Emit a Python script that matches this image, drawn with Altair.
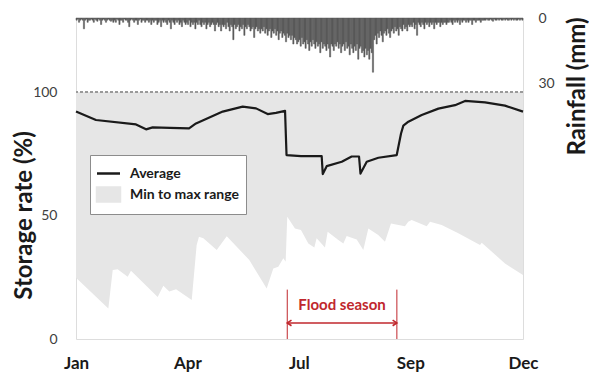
import altair as alt
import pandas as pd

# ---- data -------------------------------------------------------------
# Average storage rate (%) by day of year
avg_day = [0, 16.3, 49.0, 57.2, 62.6, 76.8, 92.3, 98.0, 119.8, 136.1, 147.0, 156.5,
           163.3, 170.7, 171.9, 183.7, 200.6, 201.5, 204.7, 217.0, 225.1, 231.1,
           232.3, 237.4, 246.9, 261.9, 265.4, 267.3, 271.4, 282.3, 295.9, 309.5,
           317.7, 334.0, 350.3, 365]
avg_rate = [92.1, 88.7, 86.9, 84.9, 85.7, 85.5, 85.3, 87.3, 92.1, 94.1, 93.4, 91.1,
            91.6, 92.4, 74.5, 74.1, 74.1, 66.8, 70.0, 71.8, 73.9, 73.9,
            67.0, 71.8, 73.4, 74.5, 83.2, 86.4, 88.0, 90.7, 93.3, 94.7,
            96.4, 95.8, 94.5, 92.1]

# Lower edge of the min-to-max band (%); the upper edge is full storage
min_day = [0, 26.4, 30.0, 34.0, 42.2, 44.9, 66.7, 71.3, 76.2, 81.7, 94.5, 98.5,
           100.4, 104.0, 114.9, 123.1, 141.5, 155.7, 161.1, 165.2, 169.3, 171.2,
           172.5, 178.8, 183.7, 189.7, 194.6, 196.5, 203.3, 205.5, 214.2, 218.3,
           221.0, 229.2, 234.6, 238.7, 246.8, 252.3, 257.2, 268.6, 271.3, 274.1,
           286.4, 289.1, 298.6, 312.2, 329.9, 331.3, 350.3, 365]
min_rate = [24.8, 12.4, 27.9, 28.2, 25.2, 27.6, 17.0, 21.6, 19.2, 20.1, 15.8, 38.0,
            41.4, 40.8, 36.0, 41.6, 32.0, 20.5, 28.6, 29.3, 32.7, 31.3,
            49.5, 44.8, 44.1, 38.7, 37.1, 40.8, 37.1, 43.4, 40.1, 38.7,
            41.7, 40.3, 36.0, 44.8, 42.1, 39.4, 46.8, 45.7, 47.5, 48.2,
            45.7, 47.5, 46.2, 42.8, 38.1, 39.0, 30.6, 25.9]
max_rate = 100

# Daily rainfall (mm), month by month
rain_jan = [1, 0.5, 2, 1, 0.5, 1, 5, 1, 0.5, 2, 1, 1, 0.5, 1, 2, 0.5, 1, 1.5, 0.5, 1,
            3, 1, 0.5, 1, 2, 1, 0.5, 1, 1.5, 1, 2]
rain_feb = [1, 2, 0.5, 1, 3, 1, 1, 2, 0.5, 1, 1, 2, 4, 1, 0.5, 1, 2, 1, 1, 3,
            1, 0.5, 2, 1, 1, 2, 1, 1]
rain_mar = [2, 1, 3, 1, 2, 1, 1, 3, 2, 1, 4, 1, 2, 1, 2, 3, 1, 2, 5, 1,
            2, 3, 1, 2, 1, 3, 2, 4, 1, 2, 3]
rain_apr = [2, 3, 1, 4, 2, 3, 2, 5, 2, 3, 1, 3, 4, 2, 3, 2, 5, 3, 2, 4,
            3, 2, 3, 6, 3, 2, 4, 3, 6, 3]
rain_may = [4, 3, 5, 2, 4, 6, 3, 4, 10, 3, 5, 4, 3, 6, 4, 5, 3, 8, 4, 5,
            3, 4, 6, 5, 4, 9, 5, 4, 6, 5, 7]
rain_jun = [5, 6, 4, 7, 5, 8, 6, 5, 9, 6, 7, 5, 8, 6, 10, 7, 6, 9, 7, 8,
            11, 7, 9, 8, 10, 8, 12, 9, 10, 12]
rain_jul = [11, 10, 13, 9, 12, 11, 14, 10, 12, 15, 11, 13, 10, 12, 14, 11, 13, 12, 16, 11,
            14, 12, 13, 15, 12, 14, 18, 12, 13, 15, 12]
rain_aug = [13, 11, 14, 12, 16, 13, 12, 15, 11, 14, 13, 17, 12, 14, 16, 13, 15, 12, 19, 14,
            13, 16, 15, 18, 14, 17, 15, 19, 14, 16, 25]
rain_sep = [10, 8, 12, 7, 9, 6, 8, 11, 7, 6, 8, 5, 7, 9, 6, 5, 7, 4, 6, 5,
            8, 4, 5, 6, 3, 5, 4, 6, 3, 4]
rain_oct = [3, 4, 2, 5, 3, 8, 2, 3, 4, 2, 3, 5, 2, 3, 2, 4, 2, 3, 2, 5,
            2, 3, 2, 2, 4, 2, 3, 2, 2, 3, 2]
rain_nov = [2, 1, 2, 3, 1, 2, 1, 2, 1, 3, 1, 2, 1, 1, 2, 1, 2, 1, 1, 3,
            1, 1, 2, 1, 1, 1, 2, 1, 1, 1]
rain_dec = [1, 0.5, 1, 1, 0.5, 1, 1.5, 0.5, 1, 1, 0.5, 1, 0.5, 1, 1, 0.5, 1, 0.5, 1, 1,
            0.5, 1, 0.5, 1, 0.5, 1, 1, 0.5, 1, 0.5, 1]

# Axis ticks
tick_days = [0, 91, 182, 273, 365]
tick_months = ["Jan", "Apr", "Jul", "Sep", "Dec"]
storage_ticks = [0, 50, 100]
rain_ticks = [0, 30]

# Flood season window (day of year)
flood_start, flood_end = 172.5, 262.0
flood_label = "Flood season"

series_names = ["Average", "Min to max range"]

# ---- styling ------------------------------------------------------------
FONT = "Lato"
INK = "#1a1a1a"
RED = "#c0272d"
BAND = "#e6e6e6"
RAIN = "#5a5a5a"

rain = (rain_jan + rain_feb + rain_mar + rain_apr + rain_may + rain_jun +
        rain_jul + rain_aug + rain_sep + rain_oct + rain_nov + rain_dec)

band_df = pd.DataFrame({"day": min_day, "lo": min_rate, "series": series_names[1]})
avg_df = pd.DataFrame({"day": avg_day, "rate": avg_rate, "series": series_names[0]})
rain_df = pd.DataFrame({"day": list(range(len(rain))),
                        "day_end": [d + 1 for d in range(len(rain))],
                        "rain": rain})
flood_df = pd.DataFrame({"day": [flood_start, flood_end]})
arrow_df = pd.DataFrame({"start": [flood_start], "end": [flood_end],
                         "mid": [(flood_start + flood_end) / 2]})

label_expr = " : ".join(
    f"datum.value < {(tick_days[i] + tick_days[i + 1]) / 2} ? '{tick_months[i]}'"
    for i in range(len(tick_days) - 1)
) + f" : '{tick_months[-1]}'"

x_axis = alt.Axis(values=tick_days, labelExpr=label_expr, title=None, grid=False,
                  domain=False, ticks=False, tickSize=0, labelPadding=16,
                  labelFont=FONT, labelFontSize=17, labelFontWeight="bold",
                  labelColor=INK, labelFlush=False, labelOverlap=False)
x_scale = alt.Scale(domain=[0, 365], nice=False, zero=False)

y_axis = alt.Axis(values=storage_ticks, title="Storage rate (%)", grid=False,
                  domain=False, ticks=False, tickSize=0, labelPadding=19,
                  labelFont=FONT, labelFontSize=14, labelColor="#404040",
                  titleFont=FONT, titleFontSize=24, titleFontWeight="bold",
                  titleColor=INK, titleAngle=270, titleX=-45, titleY=197,
                  titleAlign="center", titleBaseline="alphabetic")
y_scale = alt.Scale(domain=[0, 130], nice=False, zero=True)

r_axis = alt.Axis(values=rain_ticks, orient="right", title="Rainfall (mm)", grid=False,
                  domain=False, ticks=False, tickSize=0, labelPadding=15,
                  labelFont=FONT, labelFontSize=14, labelColor="#404040",
                  titleFont=FONT, titleFontSize=24, titleFontWeight="bold",
                  titleColor=INK, titleAngle=270, titleX=61, titleY=68,
                  titleAlign="center", titleBaseline="alphabetic")
r_scale = alt.Scale(domain=[0, 148], reverse=True, nice=False, zero=True)


def xq(field):
    return alt.X(field, type="quantitative", scale=x_scale, axis=x_axis)


def yq(field):
    return alt.Y(field, type="quantitative", scale=y_scale, axis=y_axis)


def ydatum(v):
    return alt.Y(datum=v, type="quantitative", scale=y_scale, axis=y_axis)


is_avg = f"datum.label === '{series_names[0]}'"
legend = alt.Legend(
    title=None, orient="none", legendX=14, legendY=137,
    fillColor="white", strokeColor="#8c8c8c", padding=7, rowPadding=1,
    labelFont=FONT, labelFontSize=14, labelFontWeight="bold", labelColor=INK,
    labelOffset=10, symbolSize=400, symbolStrokeWidth=2.5, symbolOpacity=1,
    symbolType=alt.ExprRef(expr=f"{is_avg} ? 'M-1.15,0H1.15' : 'M-1.15,-0.7H1.15V0.7H-1.15Z'"),
    symbolFillColor=alt.ExprRef(expr=f"{is_avg} ? 'transparent' : '{BAND}'"),
    symbolStrokeColor=alt.ExprRef(expr=f"{is_avg} ? '{INK}' : 'transparent'"),
)
color = alt.Color("series:N", scale=alt.Scale(domain=series_names, range=[INK, BAND]),
                  legend=legend)

band = alt.Chart(band_df).mark_area(opacity=1).encode(
    x=xq("day"), y=yq("lo"), y2=alt.datum(max_rate), color=color)

full_line = alt.Chart(band_df).mark_rule(color="#9a9a9a", strokeWidth=1,
                                         strokeDash=[3, 2]).encode(y=ydatum(max_rate))

average = alt.Chart(avg_df).mark_line(strokeWidth=2.2, strokeJoin="round").encode(
    x=xq("day"), y=yq("rate"), color=color)

flood_lines = alt.Chart(flood_df).mark_rule(color=RED, strokeWidth=1).encode(
    x=xq("day"), y=ydatum(0), y2=alt.datum(20))

arrow_y = 6.5
arrow_shaft = alt.Chart(arrow_df).mark_rule(color=RED, strokeWidth=1.5).encode(
    x=xq("start"), x2="end", y=ydatum(arrow_y))
head_left = alt.Chart(arrow_df).mark_point(
    shape="M1.2,-0.8L0,0L1.2,0.8", filled=False, size=50, strokeWidth=1.6,
    color=RED, opacity=1).encode(x=xq("start"), y=ydatum(arrow_y))
head_right = alt.Chart(arrow_df).mark_point(
    shape="M-1.2,-0.8L0,0L-1.2,0.8", filled=False, size=50, strokeWidth=1.6,
    color=RED, opacity=1).encode(x=xq("end"), y=ydatum(arrow_y))
flood_text = alt.Chart(arrow_df).mark_text(
    text=flood_label, font=FONT, fontSize=15, fontWeight="bold", color=RED,
    baseline="middle", align="center").encode(x=xq("mid"), y=ydatum(13.8))

storage = alt.layer(band, full_line, average, flood_lines, arrow_shaft,
                    head_left, head_right, flood_text)

# Daily bars hang from the top edge; a thin matching stroke closes hairline gaps
rainfall = alt.Chart(rain_df).mark_rect(color=RAIN, stroke=RAIN, strokeWidth=0.5).encode(
    x=xq("day"), x2="day_end",
    y=alt.Y("rain", type="quantitative", scale=r_scale, axis=r_axis),
    y2=alt.datum(0))

chart = alt.layer(storage, rainfall).resolve_scale(y="independent").properties(
    width=447, height=321,
    autosize=alt.AutoSizeParams(type="none"),
    padding={"left": 76, "top": 18, "right": 66, "bottom": 37},
).configure_view(stroke="#333333", strokeWidth=1.5).configure(background="white")

chart.save("out.html", embed_options={"renderer": "svg", "actions": False})
